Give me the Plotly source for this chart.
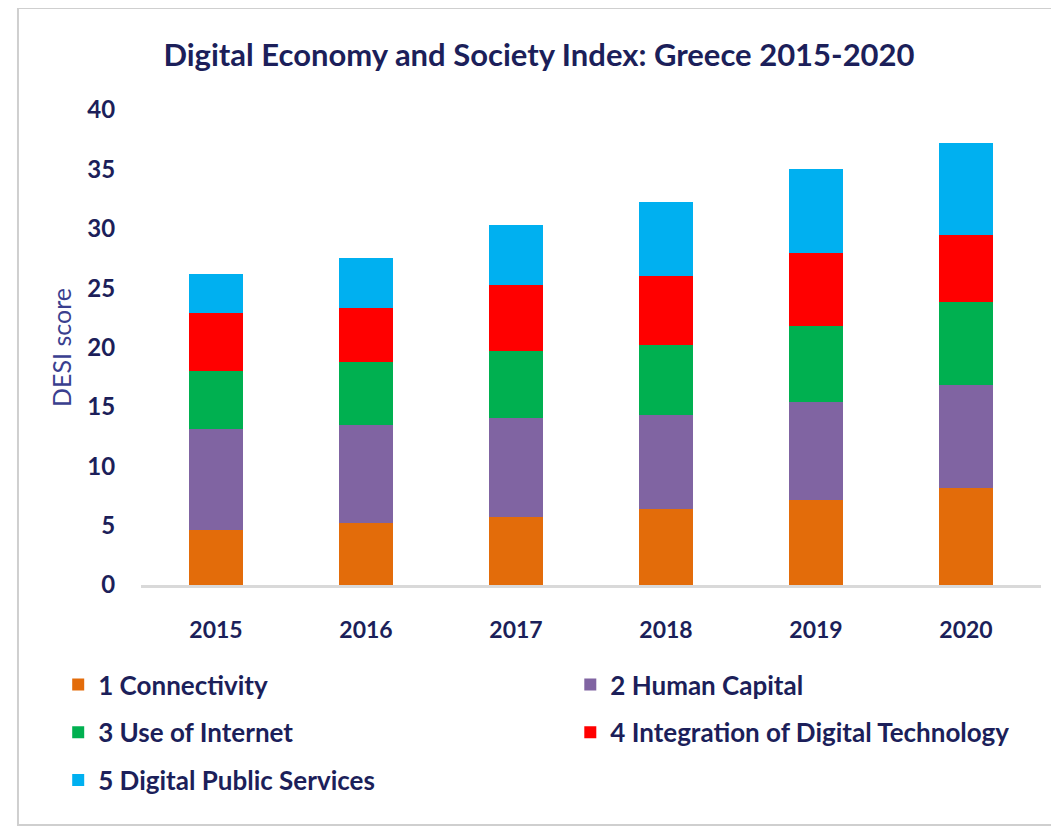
import plotly.graph_objects as go

years = ["2015", "2016", "2017", "2018", "2019", "2020"]

connectivity = [4.6, 5.2, 5.75, 6.4, 7.2, 8.2]
human_capital = [8.5, 8.3, 8.3, 7.95, 8.2, 8.65]
use_of_internet = [4.9, 5.25, 5.65, 5.9, 6.45, 7.0]
integration_tech = [4.9, 4.6, 5.55, 5.8, 6.1, 5.6]
public_services = [3.25, 4.2, 5.05, 6.2, 7.05, 7.8]

series_names = [
    "1 Connectivity",
    "2 Human Capital",
    "3 Use of Internet",
    "4 Integration of Digital Technology",
    "5 Digital Public Services",
]
series_values = [connectivity, human_capital, use_of_internet, integration_tech, public_services]
series_colors = ["#E36C0A", "#8064A2", "#00B050", "#FF0000", "#00B0F0"]
legend_slots = ["legend", "legend2", "legend", "legend2", "legend"]

navy = "#1c1f5a"
font_family = "Lato, 'Open Sans', sans-serif"

fig = go.Figure()

for name, vals, color, slot in zip(series_names, series_values, series_colors, legend_slots):
    fig.add_trace(go.Bar(
        x=years,
        y=vals,
        name=name,
        marker=dict(color=color, line=dict(width=0)),
        legend=slot,
        legendgroup=name,
    ))

legend_style = dict(
    orientation="v",
    yanchor="top",
    xanchor="left",
    traceorder="grouped",
    tracegroupgap=11,
    bgcolor="rgba(0,0,0,0)",
    font=dict(family=font_family, size=26, color=navy, weight="bold"),
    itemclick=False,
)

# the page body adds an 8px offset, so margins are trimmed by 8px
fig.update_layout(
    width=1059,
    height=829,
    barmode="stack",
    bargap=0.645,
    paper_bgcolor="white",
    plot_bgcolor="white",
    margin=dict(l=133, r=26, t=102, b=252, autoexpand=False),
    title=dict(
        text="<b>Digital Economy and Society Index: Greece 2015-2020</b>",
        x=0.5014, xref="container", xanchor="center",
        y=0.943, yref="container", yanchor="middle",
        font=dict(family=font_family, size=31, color=navy),
    ),
    legend=dict(x=-0.092, y=-0.16, **legend_style),
    legend2=dict(x=0.477, y=-0.16, **legend_style),
    xaxis=dict(
        showline=True, linecolor="#d9d9d9", linewidth=3,
        showgrid=False, zeroline=False,
        ticks="outside", ticklen=22, tickcolor="rgba(0,0,0,0)",
        tickfont=dict(family=font_family, size=23, color=navy, weight="bold"),
    ),
    yaxis=dict(
        range=[0, 40], dtick=5,
        showline=False, showgrid=False, zeroline=False,
        ticks="outside", ticklen=20, tickcolor="rgba(0,0,0,0)",
        tickfont=dict(family=font_family, size=24, color=navy, weight="bold"),
        title=dict(text="DESI score", standoff=8,
                   font=dict(family=font_family, size=25, color="#3a3f8f")),
    ),
    shapes=[dict(
        type="rect", xref="paper", yref="paper",
        x0=-0.1367, x1=1.06, y0=-0.505, y1=1.2147,
        line=dict(color="#cfcfcf", width=2), fillcolor="rgba(0,0,0,0)",
        layer="below",
    )],
)

fig.write_html("out.html")
